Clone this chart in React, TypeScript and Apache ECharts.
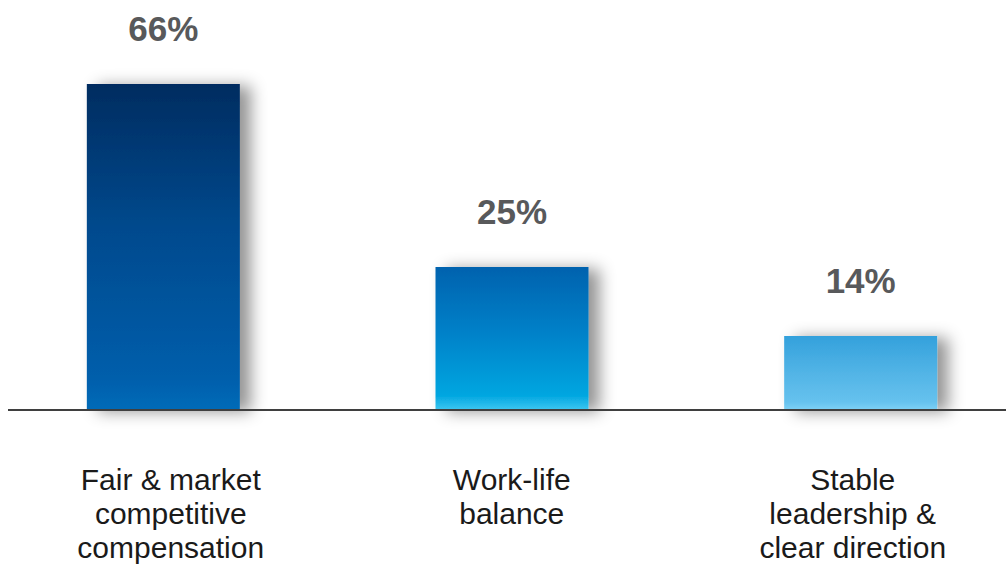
import React, { useEffect, useRef } from "react";
import * as echarts from "echarts";

const categories = [
  "Fair & market\ncompetitive\ncompensation",
  "Work-life\nbalance",
  "Stable\nleadership &\nclear direction",
];
// bar heights as drawn in the picture (same scale, 66 = tallest)
const barValues = [66, 28.9, 14.9];
// value labels printed above the bars
const percentLabels = ["66%", "25%", "14%"];
const barGradients = [
  ["#002c60", "#004a8e", "#005eab", "#006bb8"],
  ["#0062ae", "#0080c8", "#00a6e0", "#3cc6f0"],
  ["#33a1dc", "#4fb2e5", "#66c2ee", "#7dd0f5"],
];

const FONT = "'Helvetica Neue', Helvetica, Arial, 'Liberation Sans', sans-serif";

export default function App() {
  const ref = useRef<HTMLDivElement>(null);
  useEffect(() => {
    if (!ref.current) return;
    const chart = echarts.init(ref.current, undefined, { renderer: "svg" });
    chart.setOption({
      animation: false,
      backgroundColor: "#ffffff",
      grid: [
        { left: 0, right: 0, top: 84, bottom: 155.5, containLabel: false },
        { left: 11.25, width: 1023, top: 84, bottom: 155.5, containLabel: false },
      ],
      xAxis: [
        {
          type: "category",
          gridIndex: 0,
          data: categories,
          z: 3,
          axisLine: { show: true, lineStyle: { color: "#3f3f3f", width: 2 } },
          axisTick: { show: false },
          axisLabel: { show: false },
        },
        {
          type: "category",
          gridIndex: 1,
          data: categories,
          axisLine: { show: false },
          axisTick: { show: false },
          axisLabel: {
            margin: 53,
            color: "#1a1a1a",
            fontSize: 30,
            lineHeight: 34,
            fontFamily: FONT,
            interval: 0,
            align: "center",
          },
        },
      ],
      yAxis: [
        { type: "value", gridIndex: 0, min: 0, max: 66, show: false, splitLine: { show: false } },
        { type: "value", gridIndex: 1, min: 0, max: 66, show: false, splitLine: { show: false } },
      ],
      series: [
        {
          type: "bar",
          xAxisIndex: 0,
          yAxisIndex: 0,
          barWidth: 153,
          data: barValues.map((v, i) => ({
            value: v,
            itemStyle: {
              color: new echarts.graphic.LinearGradient(0, 0, 0, 1, [
                { offset: 0, color: barGradients[i][0] },
                { offset: 0.45, color: barGradients[i][1] },
                { offset: 0.9, color: barGradients[i][2] },
                { offset: 1, color: barGradients[i][3] },
              ]),
              shadowColor: "rgba(0,0,0,0.42)",
              shadowBlur: 16,
              shadowOffsetX: 11,
              shadowOffsetY: 2,
            },
            label: {
              show: true,
              position: "top",
              distance: 38,
              formatter: () => percentLabels[i],
              color: "#58595b",
              fontSize: 35,
              fontWeight: "bold",
              fontFamily: FONT,
            },
          })),
        },
      ],
    });
    return () => chart.dispose();
  }, []);
  return (
    <div
      style={{
        position: "absolute",
        left: 8,
        top: 0,
        width: 998,
        height: 565,
        overflow: "hidden",
        background: "#ffffff",
      }}
    >
      <div
        ref={ref}
        style={{ position: "absolute", left: -18.75, top: 0, width: 1045.5, height: 565 }}
      />
    </div>
  );
}
